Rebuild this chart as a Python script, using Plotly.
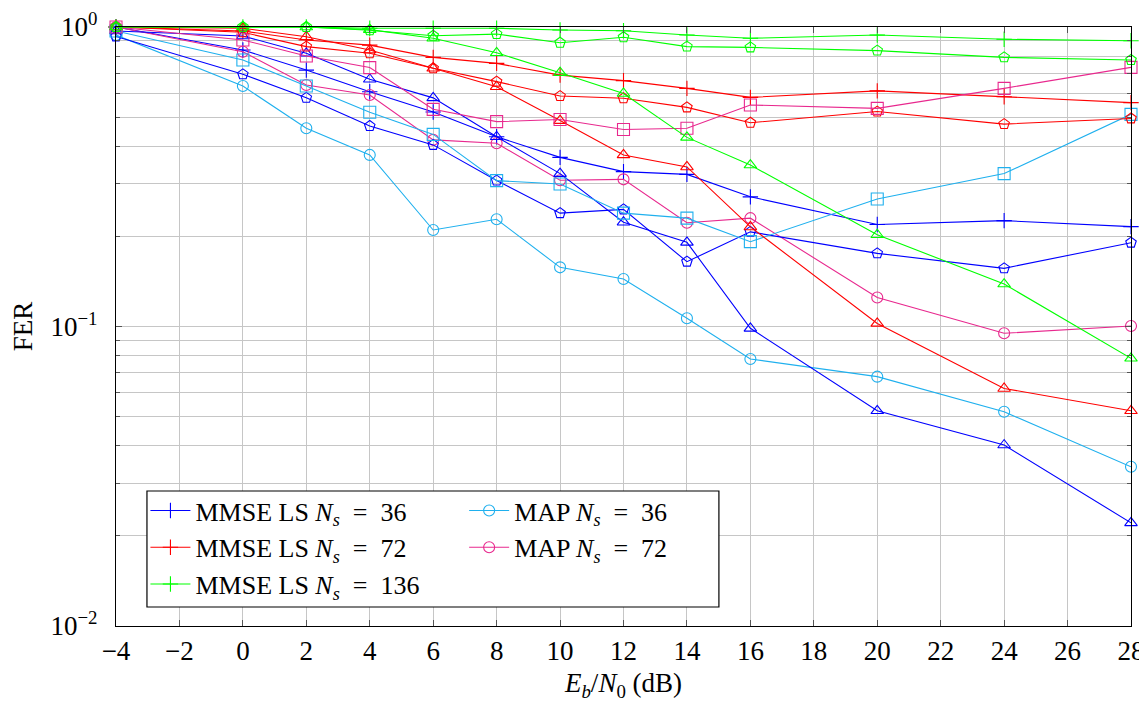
import plotly.graph_objects as go

# ---------------- data ----------------
ebn0_db = [-4, 0, 2, 4, 6, 8, 10, 12, 14, 16, 20, 24, 28]

blue_plus = [1.0, 0.838, 0.718, 0.608, 0.52, 0.43, 0.367, 0.329, 0.322, 0.271, 0.219, 0.2256, 0.2155]
blue_tri = [0.97, 0.933, 0.817, 0.669, 0.58, 0.43, 0.324, 0.223, 0.191, 0.0986, 0.0523, 0.0402, 0.0221]
blue_pent = [0.93, 0.695, 0.58, 0.467, 0.404, 0.307, 0.239, 0.246, 0.1646, 0.207, 0.1755, 0.1564, 0.1905]
cyan_circ = [0.94, 0.635, 0.459, 0.374, 0.21, 0.228, 0.1576, 0.144, 0.1065, 0.0779, 0.068, 0.0519, 0.034]
cyan_sq = [0.97, 0.776, 0.635, 0.519, 0.438, 0.307, 0.299, 0.239, 0.23, 0.192, 0.2666, 0.324, 0.511]

red_plus = [1.0, 0.97, 0.905, 0.87, 0.792, 0.756, 0.691, 0.662, 0.624, 0.582, 0.612, 0.585, 0.559]
red_tri = [1.0, 0.99, 0.928, 0.838, 0.728, 0.632, 0.487, 0.374, 0.341, 0.215, 0.1024, 0.0621, 0.0523]
red_pent = [1.0, 0.96, 0.86, 0.817, 0.728, 0.657, 0.588, 0.578, 0.539, 0.479, 0.522, 0.474, 0.495]
mag_circ = [1.0, 0.827, 0.64, 0.593, 0.42, 0.409, 0.308, 0.31, 0.222, 0.23, 0.125, 0.0949, 0.1004]
mag_sq = [1.0, 0.905, 0.80, 0.732, 0.531, 0.483, 0.491, 0.455, 0.459, 0.549, 0.535, 0.624, 0.733]

green_plus = [1.0, 1.0, 1.0, 0.99, 0.99, 0.99, 0.977, 0.972, 0.94, 0.917, 0.94, 0.91, 0.90]
green_tri = [1.0, 1.0, 1.0, 0.98, 0.917, 0.82, 0.704, 0.60, 0.428, 0.346, 0.2025, 0.1386, 0.0783]
green_pent = [1.0, 1.0, 1.0, 0.975, 0.935, 0.947, 0.886, 0.924, 0.86, 0.855, 0.834, 0.792, 0.776]

x_ticks = [-4, -2, 0, 2, 4, 6, 8, 10, 12, 14, 16, 18, 20, 22, 24, 26, 28]
x_tick_text = [str(v).replace("-", "\u2212") for v in x_ticks]
y_ticks = [0.01, 0.1, 1]
y_tick_text = ["10<sup>\u22122</sup>", "10<sup>\u22121</sup>", "10<sup>0</sup>"]

BLUE = "#0000ff"
RED = "#ff0000"
GREEN = "#00ff00"
CYAN = "#1fb0ee"
MAGENTA = "#e8288e"

FONT = "Liberation Serif"
NS = "<i>N</i><sub><i>s</i></sub>"
EQ = "&nbsp;&nbsp;=&nbsp;&nbsp;"

series = [
    # values, color, symbol, name, legend
    (blue_plus, BLUE, "cross-thin-open", f"MMSE LS {NS}{EQ}36", "legend"),
    (red_plus, RED, "cross-thin-open", f"MMSE LS {NS}{EQ}72", "legend"),
    (green_plus, GREEN, "cross-thin-open", f"MMSE LS {NS}{EQ}136", "legend"),
    (cyan_circ, CYAN, "circle-open", f"MAP {NS}{EQ}36", "legend2"),
    (mag_circ, MAGENTA, "circle-open", f"MAP {NS}{EQ}72", "legend2"),
    (blue_tri, BLUE, "triangle-up-open", None, None),
    (blue_pent, BLUE, "pentagon-open", None, None),
    (cyan_sq, CYAN, "square-open", None, None),
    (red_tri, RED, "triangle-up-open", None, None),
    (red_pent, RED, "pentagon-open", None, None),
    (mag_sq, MAGENTA, "square-open", None, None),
    (green_tri, GREEN, "triangle-up-open", None, None),
    (green_pent, GREEN, "pentagon-open", None, None),
]

fig = go.Figure()
for vals, color, sym, name, leg in series:
    size = 12 if sym == "square-open" else 11
    kw = dict(
        x=ebn0_db, y=vals, mode="lines+markers",
        line=dict(color=color, width=1.1),
        marker=dict(symbol=sym, size=size, color=color, line=dict(color=color, width=1.1)),
        cliponaxis=False,
    )
    if name is None:
        kw["showlegend"] = False
    else:
        kw["name"] = name
        kw["legend"] = leg
    fig.add_trace(go.Scatter(**kw))

grid_col = "#c6c6c6"
tickfont = dict(family=FONT, size=27, color="black")
# the page body adds an 8px margin, so the figure is 8px smaller and the
# margins are shifted to land the plot area where the reference has it
fig.update_layout(
    width=1139, height=696,
    margin=dict(l=108, r=16, t=19, b=78, autoexpand=False),
    paper_bgcolor="white", plot_bgcolor="white",
    font=dict(family=FONT, size=26, color="black"),
    xaxis=dict(
        range=[-4, 28], tickvals=x_ticks, ticktext=x_tick_text,
        showgrid=True, gridcolor=grid_col, gridwidth=1,
        ticks="inside", ticklen=6, tickcolor="#555555",
        showline=True, linecolor="black", linewidth=1.2, mirror="ticks",
        zeroline=False, automargin=False,
        title=dict(text="<i>E</i><sub><i>b</i></sub>/<i>N</i><sub>0</sub> (dB)", standoff=8,
                   font=dict(family=FONT, size=27)),
        tickfont=tickfont, ticklabelstandoff=0,
    ),
    yaxis=dict(
        type="log", range=[-2, 0], tickvals=y_ticks, ticktext=y_tick_text,
        showgrid=True, gridcolor=grid_col, gridwidth=1,
        ticks="inside", ticklen=6, tickcolor="#555555",
        minor=dict(dtick="D1", showgrid=True, gridcolor=grid_col, gridwidth=1,
                   ticks="inside", ticklen=4, tickcolor="#555555"),
        showline=True, linecolor="black", linewidth=1.2, mirror="ticks",
        zeroline=False, automargin=False,
        title=dict(text="FER", standoff=12, font=dict(family=FONT, size=27)),
        tickfont=tickfont, ticklabelstandoff=12,
    ),
    legend=dict(
        x=0.029, y=0.232, xanchor="left", yanchor="top",
        bgcolor="rgba(0,0,0,0)", borderwidth=0,
        font=dict(family=FONT, size=26), tracegroupgap=0,
        itemwidth=40,
    ),
    legend2=dict(
        x=0.343, y=0.232, xanchor="left", yanchor="top",
        bgcolor="rgba(0,0,0,0)", borderwidth=0,
        font=dict(family=FONT, size=26), tracegroupgap=0,
        itemwidth=40,
    ),
    shapes=[dict(
        type="rect", xref="paper", yref="paper",
        x0=0.0305, x1=0.594, y0=0.0317, y1=0.2254,
        line=dict(color="black", width=1.2), fillcolor="white", layer="above",
    )],
)

fig.write_html("out.html")
